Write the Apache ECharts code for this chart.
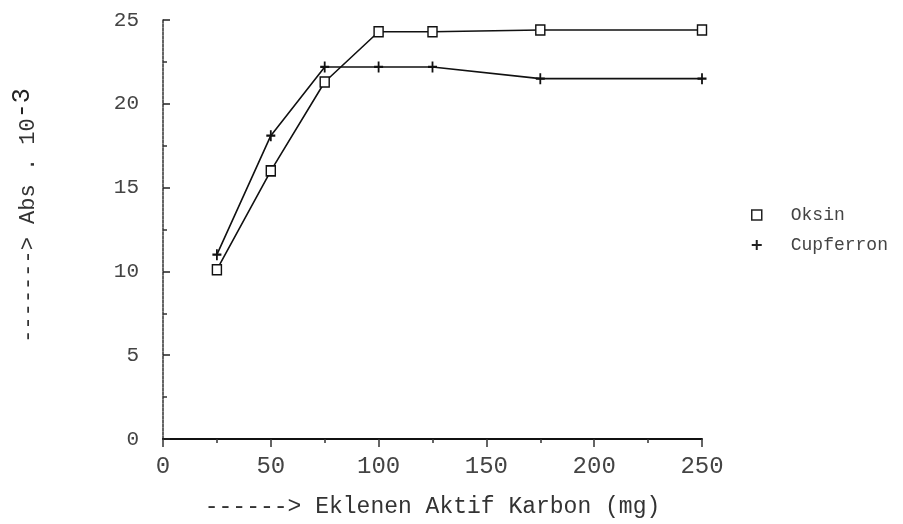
<!DOCTYPE html>
<html>
<head>
<meta charset="utf-8">
<script src="https://cdn.jsdelivr.net/npm/echarts@6/dist/echarts.min.js"></script>
<style>
html,body{margin:0;padding:0;background:#fff;}
#chart{width:903px;height:524px;}
</style>
</head>
<body>
<div id="chart"></div>
<script>
// Data
var xValues = [25, 50, 75, 100, 125, 175, 250];
var oksin = [10.1, 16.0, 21.3, 24.3, 24.3, 24.4, 24.4];
var cupferron = [11.0, 18.1, 22.2, 22.2, 22.2, 21.5, 21.5];
var seriesNames = ['Oksin', 'Cupferron'];
var xAxisTitle = '------> Eklenen Aktif Karbon (mg)';
var yAxisTitle = '-------> Abs . 10';
var yAxisTitleSup = '-3';

var FONT = 'Liberation Mono';
var plusPath = 'path://M4,0h2v4h4v2h-4v4h-2v-4h-4v-2h4z';

function pairs(ys) {
  return xValues.map(function (x, i) { return [x, ys[i]]; });
}

var chart = echarts.init(document.getElementById('chart'), null, {renderer: 'canvas'});
chart.setOption({
  animation: false,
  backgroundColor: '#ffffff',
  grid: {left: 163, right: 201, top: 20, bottom: 85},
  legend: {
    orient: 'vertical',
    left: 746,
    top: 201,
    itemGap: 12,
    itemWidth: 10,
    itemHeight: 10,
    textStyle: {fontFamily: FONT, fontSize: 18, color: '#444', padding: [0, 0, 0, 24]},
    data: [
      {name: seriesNames[0], icon: 'rect', itemStyle: {color: '#fff', borderColor: '#222', borderWidth: 1.5}},
      {name: seriesNames[1], icon: plusPath, itemStyle: {color: '#222', borderWidth: 0}}
    ]
  },
  xAxis: {
    type: 'value',
    min: 0, max: 250, interval: 50,
    name: xAxisTitle,
    nameLocation: 'middle',
    nameGap: 56,
    nameTextStyle: {fontFamily: FONT, fontSize: 23, color: '#333'},
    axisLine: {show: true, onZero: false, lineStyle: {color: '#111', width: 2}},
    axisTick: {show: true, inside: false, length: 8, lineStyle: {color: '#333', width: 1.5}},
    minorTick: {show: true, splitNumber: 2, length: 4, lineStyle: {color: '#333', width: 1.5}},
    axisLabel: {fontFamily: FONT, fontSize: 24, color: '#444', margin: 16},
    splitLine: {show: false}
  },
  yAxis: {
    type: 'value',
    min: 0, max: 25, interval: 5,
    name: yAxisTitle + '{sup|' + yAxisTitleSup + '}',
    nameLocation: 'middle',
    nameGap: 116,
    nameRotate: 90,
    nameTextStyle: {
      fontFamily: FONT, fontSize: 22, color: '#333',
      padding: [0, 0, 0, 28],
      rich: {sup: {fontFamily: FONT, fontSize: 25, color: '#222', verticalAlign: 'bottom', padding: [0, 0, 12, 0]}}
    },
    axisLine: {show: true, lineStyle: {color: '#333', width: 1.5, type: [3, 1]}},
    axisTick: {show: true, inside: true, length: 7, lineStyle: {color: '#222', width: 1.5}},
    minorTick: {show: true, splitNumber: 2, length: 4, lineStyle: {color: '#333', width: 1.5}},
    axisLabel: {fontFamily: FONT, fontSize: 21, color: '#444', margin: 24},
    splitLine: {show: false}
  },
  series: [
    {
      name: seriesNames[0],
      type: 'line',
      data: pairs(oksin),
      symbol: 'rect',
      symbolSize: [9, 10],
      itemStyle: {color: '#fff', borderColor: '#111', borderWidth: 1.5},
      lineStyle: {color: '#111', width: 1.6},
      z: 3
    },
    {
      name: seriesNames[1],
      type: 'line',
      data: pairs(cupferron),
      symbol: plusPath,
      symbolSize: [9, 11],
      itemStyle: {color: '#111', borderWidth: 0},
      lineStyle: {color: '#111', width: 1.6},
      z: 3
    }
  ]
});
</script>
</body>
</html>
